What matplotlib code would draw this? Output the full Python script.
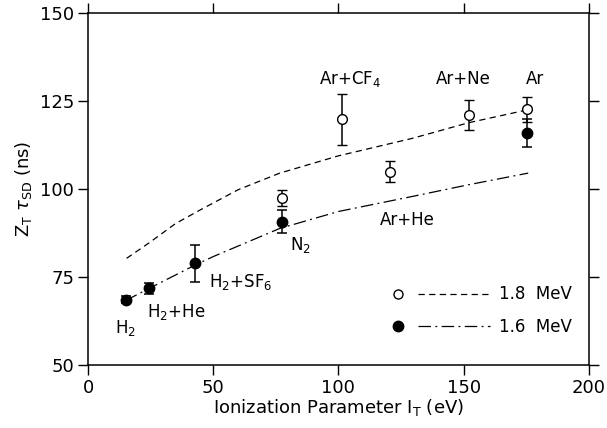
import matplotlib
matplotlib.use("Agg")
from matplotlib import pyplot as plt
from matplotlib.lines import Line2D
import numpy as np

# Measured points, 1.6 MeV (filled) and 1.8 MeV (open)
x_16 = [15.0, 24.2, 42.8, 77.4, 175.4]
y_16 = [68.5, 71.8, 78.9, 90.7, 116.0]
e_16 = [1.0, 1.6, 5.2, 3.2, 4.0]

x_18 = [77.4, 101.5, 120.6, 152.2, 175.4]
y_18 = [97.5, 119.8, 104.9, 120.9, 122.6]
e_18 = [2.3, 7.3, 3.0, 4.3, 3.6]

# Fitted curves
fit18_x = [15.4, 24.4, 35.0, 44.7, 60.0, 76.6, 100.0, 129.7, 152.0, 176.4]
fit18_y = [80.3, 84.7, 90.2, 94.0, 99.8, 104.5, 109.4, 114.4, 118.8, 122.6]
fit16_x = [15.0, 24.2, 42.8, 50.0, 76.6, 100.0, 129.7, 152.0, 175.8]
fit16_y = [68.3, 71.7, 78.4, 80.8, 88.8, 93.6, 97.9, 101.2, 104.5]

# Gas labels: text, x, y, horizontal alignment
labels = [
    ('H$_2$', 15.0, 60.5, 'center'),
    ('H$_2$+He', 23.5, 65.0, 'left'),
    ('H$_2$+SF$_6$', 48.5, 73.6, 'left'),
    ('N$_2$', 80.8, 84.2, 'left'),
    ('Ar+He', 116.6, 91.2, 'left'),
    ('Ar+CF$_4$', 104.5, 131.3, 'center'),
    ('Ar+Ne', 150.0, 131.3, 'center'),
    ('Ar', 178.4, 131.3, 'center'),
]


class MarkerThenLine:
    """Legend handler: marker on the left, line segment on the right."""

    def legend_artist(self, legend, orig_handle, fontsize, handlebox):
        mk, ln = orig_handle
        x0, y0 = handlebox.xdescent, handlebox.ydescent
        w, h = handlebox.width, handlebox.height
        m = Line2D([x0 + 4.5], [y0 + h / 2])
        m.update_from(mk)
        m.set_linestyle('None')
        l = Line2D([x0 + 18.5, x0 + w], [y0 + h / 2, y0 + h / 2])
        l.update_from(ln)
        l.set_marker('None')
        for a in (m, l):
            a.set_transform(handlebox.get_transform())
            handlebox.add_artist(a)
        return m


plt.rcParams['font.family'] = 'DejaVu Sans'
plt.rcParams['mathtext.default'] = 'regular'

fig = plt.figure(figsize=(6.07, 4.28), dpi=100)
ax = fig.add_axes([0.145, 0.147, 0.825, 0.823])

dash = (0, (5, 3.5))
dashdot = (0, (10, 3.5, 1.5, 3.5))
ax.plot(fit18_x, fit18_y, color='k', lw=0.9, linestyle=dash)
ax.plot(fit16_x, fit16_y, color='k', lw=0.9, linestyle=dashdot)

ax.errorbar(x_18, y_18, yerr=e_18, fmt='o', ms=7, mfc='white', mec='k',
            mew=1.0, ecolor='k', elinewidth=1.1, capsize=3.6, capthick=1.1,
            zorder=3)
ax.errorbar(x_16, y_16, yerr=e_16, fmt='o', ms=7.5, mfc='k', mec='k',
            ecolor='k', elinewidth=1.1, capsize=3.6, capthick=1.1, zorder=3)

for text, tx, ty, ha in labels:
    ax.text(tx, ty, text, ha=ha, va='center', fontsize=12)

ax.set_xlim(0, 200)
ax.set_ylim(50, 150)
ax.set_xticks(np.arange(0, 201, 50))
ax.set_yticks(np.arange(50, 151, 25))
ax.tick_params(direction='out', length=7, width=1.0, labelsize=13,
               top=True, right=True, pad=3)
for s in ax.spines.values():
    s.set_linewidth(1.1)

ax.set_xlabel('Ionization Parameter I$_T$ (eV)', fontsize=13, labelpad=0)
ax.set_ylabel(r'Z$_T$ $\mathit{\tau}_{SD}$ (ns)', fontsize=13, labelpad=4)

h18 = (Line2D([], [], marker='o', ms=6.5, mfc='white', mec='k', mew=1.0),
       Line2D([], [], color='k', lw=0.9, linestyle=dash))
h16 = (Line2D([], [], marker='o', ms=7.5, mfc='k', mec='k'),
       Line2D([], [], color='k', lw=0.9, linestyle=dashdot))
ax.legend([h18, h16], ['1.8  MeV', '1.6  MeV'], loc='center left',
          bbox_to_anchor=(0.607, 0.155), frameon=False, fontsize=12,
          handlelength=5.9, handletextpad=0.55, labelspacing=0.85,
          borderpad=0, borderaxespad=0,
          handler_map={tuple: MarkerThenLine()})

fig.savefig('out.png', dpi=100)
